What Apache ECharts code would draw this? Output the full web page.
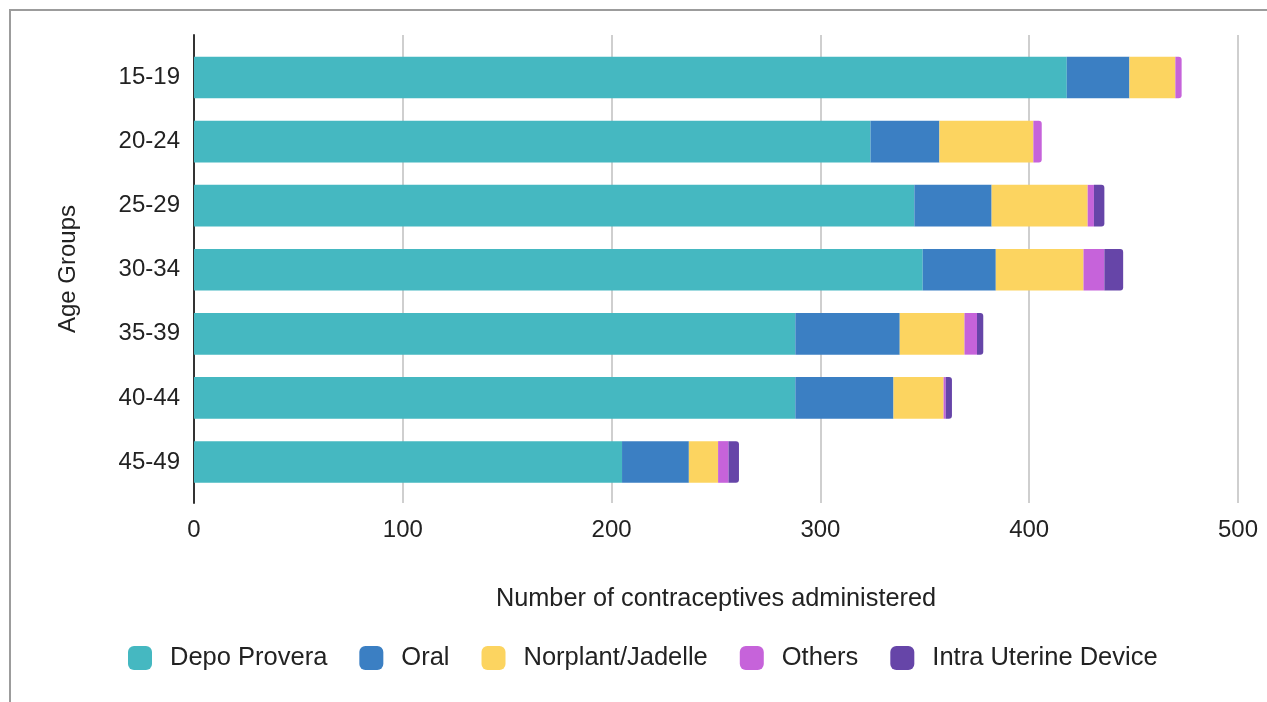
<!DOCTYPE html>
<html>
<head>
<meta charset="utf-8">
<script src="https://cdn.jsdelivr.net/npm/echarts@6/dist/echarts.min.js"></script>
<style>
html,body{margin:0;padding:0;background:#fff;overflow:hidden;}
#frame{position:absolute;left:9px;top:9px;width:1400px;height:800px;border-left:2px solid #9c9c9c;border-top:2px solid #9c9c9c;}
#chart{position:absolute;left:0;top:0;width:1267px;height:702px;}
</style>
</head>
<body>
<div id="frame"></div>
<div id="chart"></div>
<script>
const categories = ['15-19','20-24','25-29','30-34','35-39','40-44','45-49'];
const seriesNames = ['Depo Provera','Oral','Norplant/Jadelle','Others','Intra Uterine Device'];
const depoProvera = [418, 324, 345, 349, 288, 288, 205];
const oral        = [30, 33, 37, 35, 50, 47, 32];
const norplant    = [22, 45, 46, 42, 31, 24, 14];
const others      = [3, 4, 3, 10, 6, 1, 5];
const iud         = [0, 0, 5, 9, 3, 3, 5];
const xTicks = [0, 100, 200, 300, 400, 500];
const colors = ['#45B8C1','#3B7FC3','#FCD460','#C663DA','#6645A8'];

const allValues = [depoProvera, oral, norplant, others, iud];
// last non-zero segment per row gets rounded right corners
const lastIdx = categories.map((c, i) => {
  let k = 0;
  allValues.forEach((arr, s) => { if (arr[i] > 0) k = s; });
  return k;
});

const series = allValues.map((arr, s) => ({
  name: seriesNames[s],
  type: 'bar',
  stack: 'total',
  xAxisIndex: 1,
  yAxisIndex: 1,
  barCategoryGap: '35%',
  itemStyle: { color: colors[s] },
  data: arr.map((v, i) => ({
    value: v,
    itemStyle: lastIdx[i] === s ? { borderRadius: [0, 3, 3, 0] } : {}
  }))
}));

const chart = echarts.init(document.getElementById('chart'), null, { renderer: 'canvas' });
const fontFamily = 'Liberation Sans, Arial, sans-serif';
chart.setOption({
  animation: false,
  backgroundColor: 'transparent',
  textStyle: { fontFamily },
  legend: {
    data: seriesNames,
    left: 123,
    top: 640,
    itemWidth: 24,
    itemHeight: 24,
    itemGap: 32,
    icon: 'roundRect',
    textStyle: { fontSize: 25.5, color: '#222', fontFamily, padding: [0, 0, 0, 13] }
  },
  grid: [
    { left: 194, right: 29, top: 35, bottom: 199 },
    { left: 194, right: 29, top: 45.5, bottom: 208 }
  ],
  xAxis: [
    {
      gridIndex: 0, type: 'value', min: xTicks[0], max: xTicks[xTicks.length - 1], interval: 100,
      axisLine: { show: false }, axisTick: { show: false },
      splitLine: { show: true, lineStyle: { color: '#cfcfcf', width: 2 } },
      axisLabel: { fontSize: 24, color: '#222', margin: 15, fontFamily },
      name: 'Number of contraceptives administered',
      nameLocation: 'middle', nameGap: 84,
      nameTextStyle: { fontSize: 25.3, color: '#222', fontFamily }
    },
    {
      gridIndex: 1, type: 'value', min: xTicks[0], max: xTicks[xTicks.length - 1], interval: 100,
      show: false
    }
  ],
  yAxis: [
    {
      gridIndex: 0, type: 'category', data: categories, inverse: true,
      axisLine: { show: true, lineStyle: { color: '#333', width: 2 } },
      axisTick: { show: false }, axisLabel: { show: false }, splitLine: { show: false },
      name: 'Age Groups', nameLocation: 'middle', nameGap: 114, nameRotate: 90,
      nameTextStyle: { fontSize: 24, color: '#222', fontFamily }
    },
    {
      gridIndex: 1, type: 'category', data: categories, inverse: true,
      axisLine: { show: false }, axisTick: { show: false }, splitLine: { show: false },
      axisLabel: { fontSize: 24, color: '#222', margin: 14, fontFamily }
    }
  ],
  series
});
</script>
</body>
</html>
